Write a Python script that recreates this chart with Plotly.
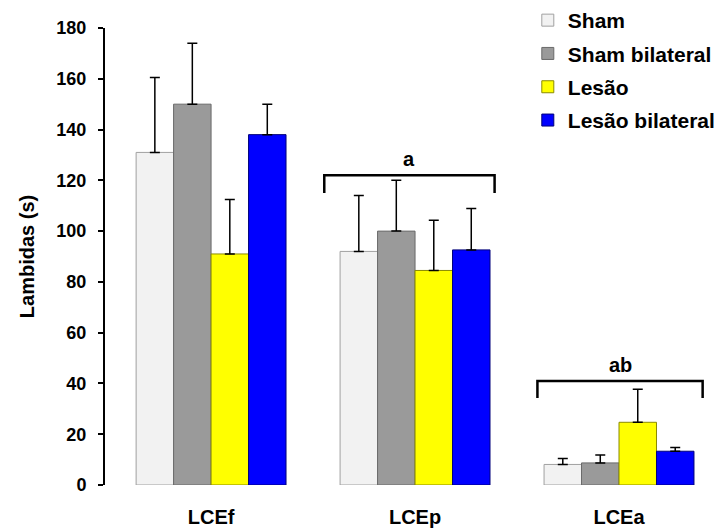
import plotly.graph_objects as go

categories = ["LCEf", "LCEp", "LCEa"]
series_names = ["Sham", "Sham bilateral", "Lesão", "Lesão bilateral"]
sham = [131, 92, 8.1]
sham_err = [29.5, 22, 2.3]
sham_bil = [150, 100, 8.7]
sham_bil_err = [24, 20, 3.1]
lesao = [91, 84.5, 24.7]
lesao_err = [21.5, 19.8, 13]
lesao_bil = [138, 92.6, 13.3]
lesao_bil_err = [12, 16.3, 1.5]

values = [sham, sham_bil, lesao, lesao_bil]
errors = [sham_err, sham_bil_err, lesao_err, lesao_bil_err]
colors = ["#f2f2f2", "#9a9a9a", "#ffff00", "#0000ff"]
edges = ["#a0a0a0", "#6a6a6a", "#8a8a00", "#00007a"]

# significance brackets: (label, x start, x end, y top, y end)
brackets = [("a", 0.555, 1.39, 122, 115), ("ab", 1.6, 2.41, 41, 34.3)]

fig = go.Figure()
for i, name in enumerate(series_names):
    fig.add_trace(go.Bar(
        x=categories, y=values[i], name=name,
        marker=dict(color=colors[i], line=dict(color=edges[i], width=1)),
        error_y=dict(type="data", array=errors[i], arrayminus=[0]*3, symmetric=False,
                     color="black", thickness=1.5, width=5),
        legendgroup=str(i),
    ))

for lab, x0, x1, ytop, yend in brackets:
    fig.add_shape(type="path", xref="x", yref="y",
                  path=f"M {x0},{yend} L {x0},{ytop} L {x1},{ytop} L {x1},{yend}",
                  line=dict(color="black", width=2.5))
    fig.add_annotation(x=(x0 + x1) / 2, y=ytop, xref="x", yref="y", text=lab,
                       showarrow=False, yanchor="bottom", yshift=3,
                       font=dict(size=20, color="black", family="Liberation Sans", weight="bold"))

fig.update_layout(
    width=725, height=531,
    margin=dict(l=105, r=4, t=28, b=46, autoexpand=False),
    paper_bgcolor="white", plot_bgcolor="white",
    barmode="group", bargap=0.265, bargroupgap=0,
    font=dict(family="Liberation Sans", color="black"),
    legend=dict(xref="container", yref="container", x=0.728, y=1.012,
                xanchor="left", yanchor="top", tracegroupgap=3,
                font=dict(size=21, weight="bold", family="Liberation Sans"),
                bgcolor="rgba(0,0,0,0)"),
    showlegend=True,
)
fig.update_xaxes(type="category", range=[-0.52, 2.5], showline=False, ticks="",
                 showgrid=False, tickfont=dict(size=20, weight="bold"),
                 ticklabelstandoff=18)
fig.update_yaxes(range=[0, 180], dtick=20, showline=True, linecolor="black", linewidth=2,
                 ticks="outside", ticklen=5, tickwidth=2, tickcolor="black",
                 showgrid=False, zeroline=False,
                 tickfont=dict(size=18, weight="bold"), ticklabelstandoff=8,
                 title=dict(text="Lambidas (s)", font=dict(size=20, weight="bold"), standoff=16))

fig.write_html("out.html")
